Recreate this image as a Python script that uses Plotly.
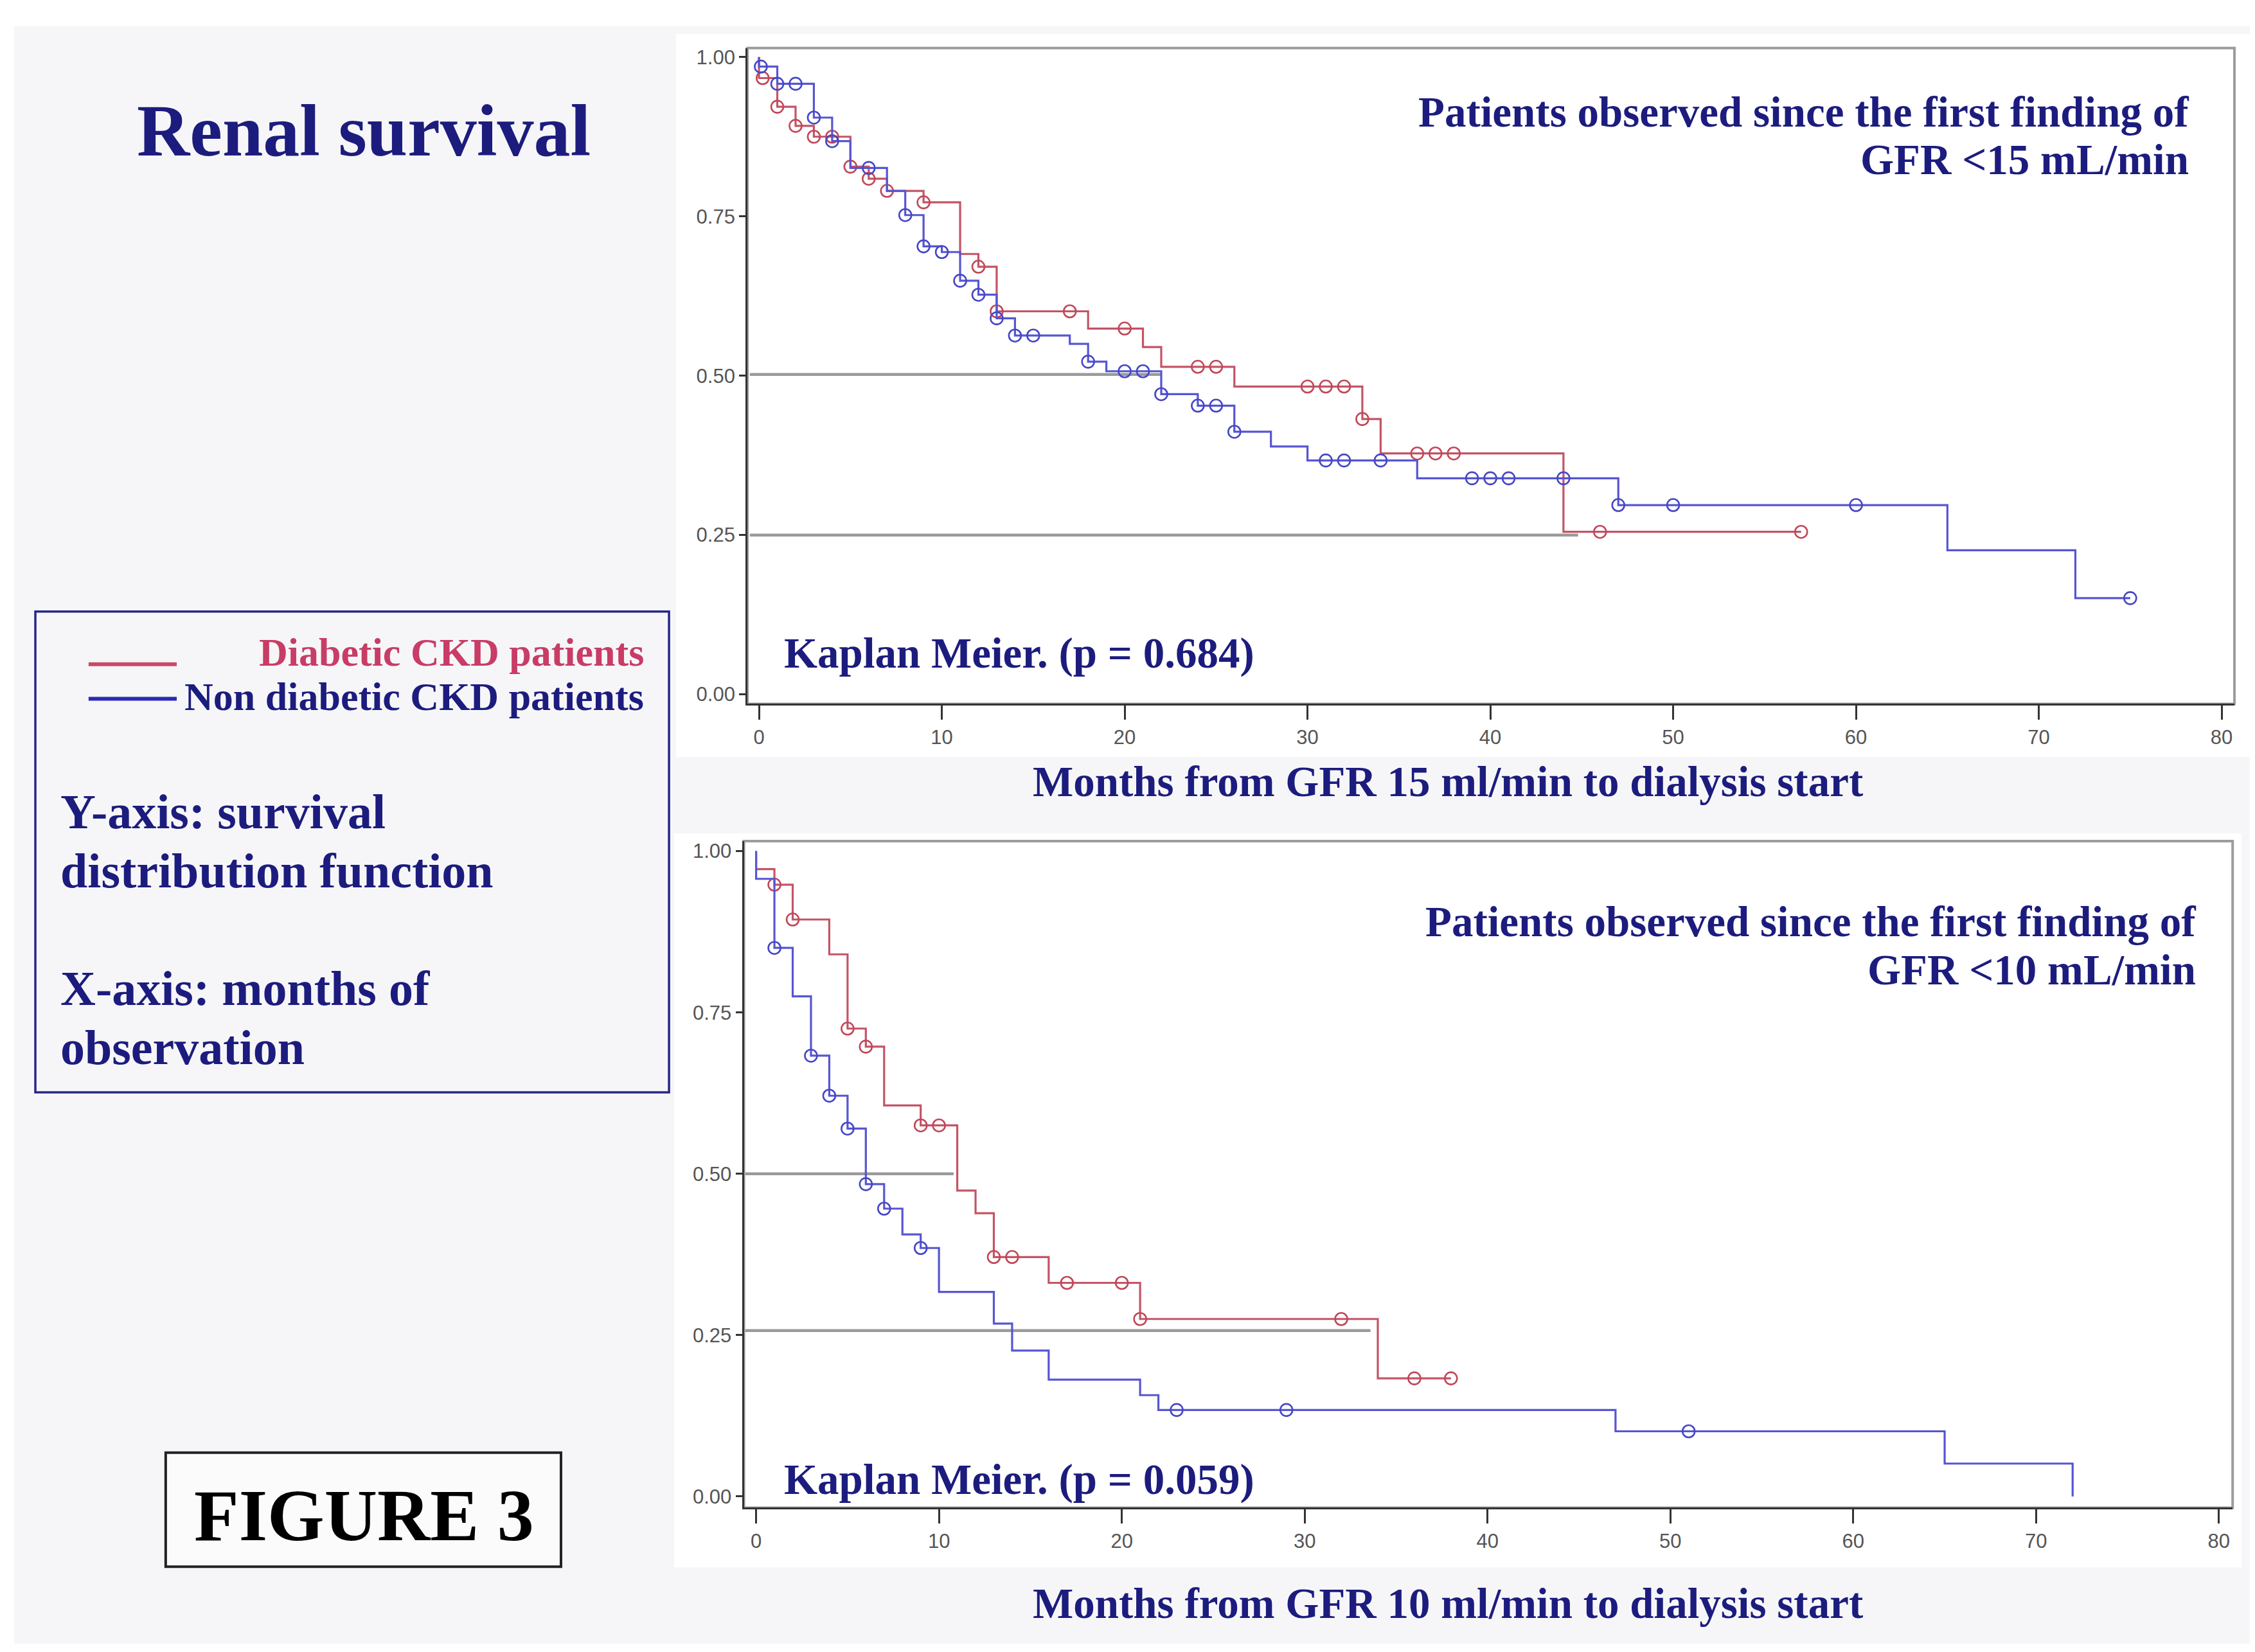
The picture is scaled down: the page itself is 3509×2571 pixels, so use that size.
import numpy as np
import plotly.graph_objects as go

# ---- data ----
months_ticks = [0, 10, 20, 30, 40, 50, 60, 70, 80]
surv_ticks = [0.0, 0.25, 0.5, 0.75, 1.0]
surv_labels = ["0.00", "0.25", "0.50", "0.75", "1.00"]

# GFR < 15 mL/min (top panel)
top_red_times = [0, 1, 2, 3, 5, 6, 7, 9, 11, 12, 13, 18, 21, 22, 26, 33, 34, 44]
top_red_surv = [0.967, 0.922, 0.892, 0.875, 0.828, 0.809, 0.79, 0.772, 0.691, 0.671,
                0.601, 0.574, 0.545, 0.514, 0.483, 0.432, 0.378, 0.255]
top_red_end = 57
top_red_cens = [0.2, 1, 2, 3, 4, 5, 6, 7, 9, 12, 13, 17, 20, 24, 25, 30, 31, 32, 33,
                36, 37, 38, 46, 57]

top_blue_times = [0, 1, 3, 4, 5, 7, 8, 9, 10, 11, 12, 13, 14, 17, 18, 19, 22, 24, 26,
                  28, 30, 36, 47, 65, 72]
top_blue_surv = [0.985, 0.958, 0.905, 0.868, 0.826, 0.79, 0.752, 0.703, 0.694, 0.649,
                 0.627, 0.59, 0.563, 0.55, 0.522, 0.507, 0.471, 0.453, 0.412, 0.389,
                 0.367, 0.339, 0.297, 0.226, 0.151]
top_blue_end = 75
top_blue_cens = [0.1, 1, 2, 3, 4, 6, 8, 9, 10, 11, 12, 13, 14, 15, 18, 20, 21, 22, 24,
                 25, 26, 31, 32, 34, 39, 40, 41, 44, 47, 50, 60, 75]

top_ref_y = [0.502, 0.25]
top_ref_end = [22, 44.8]

# GFR < 10 mL/min (bottom panel)
bot_red_times = [0, 1, 2, 4, 5, 6, 7, 9, 11, 12, 13, 16, 21, 34]
bot_red_surv = [0.972, 0.948, 0.894, 0.84, 0.725, 0.697, 0.606, 0.575, 0.474, 0.439,
                0.371, 0.331, 0.275, 0.183]
bot_red_end = 38
bot_red_cens = [1, 2, 5, 6, 9, 10, 13, 14, 17, 20, 21, 32, 36, 38]

bot_blue_times = [0, 1, 2, 3, 4, 5, 6, 7, 8, 9, 10, 13, 14, 16, 21, 22, 47, 65, 72]
bot_blue_surv = [0.957, 0.85, 0.775, 0.683, 0.621, 0.57, 0.484, 0.446, 0.406, 0.385,
                 0.317, 0.268, 0.226, 0.181, 0.157, 0.134, 0.101, 0.051, 0.0]
bot_blue_end = 72
bot_blue_cens = [1, 3, 4, 5, 6, 7, 9, 23, 29, 51]

bot_ref_y = [0.50, 0.257]
bot_ref_end = [10.8, 33.6]

# ---- styling ----
NAVY = "#1c1c7e"
RED_LINE = "#c45466"
BLUE_LINE = "#5656d2"
RED_MK = "#c04858"
BLUE_MK = "#4646c6"
SLIDE_BG = "#f6f6f8"
SERIF = "Liberation Serif, Times New Roman, serif"
SANS = "Liberation Sans, Arial, sans-serif"


def step_at(times, surv, t):
    # KM value at time t (drops at t included)
    idx = np.searchsorted(np.array(times), t, side="right") - 1
    return 1.0 if idx < 0 else surv[idx]


fig = go.Figure()


def add_curve(times, surv, end, cens, line_col, mk_col, xa, ya):
    xs = [0] + list(times) + [end]
    ys = [1.0] + list(surv) + [surv[-1]]
    fig.add_trace(go.Scatter(x=xs, y=ys, mode="lines", line_shape="hv",
                             line=dict(color=line_col, width=3.2),
                             xaxis=xa, yaxis=ya, showlegend=False, hoverinfo="skip"))
    fig.add_trace(go.Scatter(x=cens, y=[step_at(times, surv, t) for t in cens],
                             mode="markers",
                             marker=dict(symbol="circle-open", size=19, color=mk_col,
                                         line=dict(width=2.6, color=mk_col)),
                             xaxis=xa, yaxis=ya, showlegend=False, hoverinfo="skip"))


def add_refs(levels, ends, x_start, xa, ya):
    for lv, e in zip(levels, ends):
        fig.add_trace(go.Scatter(x=[x_start, e], y=[lv, lv], mode="lines",
                                 line=dict(color="#9a9a9a", width=4.5),
                                 xaxis=xa, yaxis=ya, showlegend=False, hoverinfo="skip"))


add_refs(top_ref_y, top_ref_end, -0.5, "x", "y")
add_curve(top_red_times, top_red_surv, top_red_end, top_red_cens, RED_LINE, RED_MK, "x", "y")
add_curve(top_blue_times, top_blue_surv, top_blue_end, top_blue_cens, BLUE_LINE, BLUE_MK, "x", "y")

add_refs(bot_ref_y, bot_ref_end, -0.6, "x2", "y2")
add_curve(bot_red_times, bot_red_surv, bot_red_end, bot_red_cens, RED_LINE, RED_MK, "x2", "y2")
add_curve(bot_blue_times, bot_blue_surv, bot_blue_end, bot_blue_cens, BLUE_LINE, BLUE_MK, "x2", "y2")

xaxis_common = dict(tickvals=months_ticks, ticks="outside", ticklen=22, tickwidth=2.5,
                    tickcolor="#333333", showline=True, linecolor="#333333", linewidth=3,
                    showgrid=False, zeroline=False,
                    tickfont=dict(family=SANS, size=31, color="#555555"))
yaxis_common = dict(tickvals=surv_ticks, ticktext=surv_labels, ticks="outside", ticklen=10,
                    tickwidth=2.5, tickcolor="#333333", showline=True, linecolor="#333333",
                    linewidth=3, showgrid=False, zeroline=False,
                    tickfont=dict(family=SANS, size=31, color="#555555"))

fig.update_layout(
    width=3509, height=2571,
    margin=dict(l=0, r=0, t=0, b=0),
    paper_bgcolor="white", plot_bgcolor="rgba(0,0,0,0)",
    xaxis=dict(domain=[0.3292, 0.9886], range=[-0.63, 80.7], anchor="y", **xaxis_common),
    yaxis=dict(domain=[0.5772, 0.9751], range=[-0.015, 1.014], anchor="x", **yaxis_common),
    xaxis2=dict(domain=[0.3276, 0.9878], range=[-0.67, 80.75], anchor="y2", **xaxis_common),
    yaxis2=dict(domain=[0.0895, 0.494], range=[-0.0174, 1.0156], anchor="x2", **yaxis_common),
)

shapes = [
    # slide background
    dict(type="rect", xref="paper", yref="paper", x0=0.004, x1=0.9966, y0=0.007, y1=0.9883,
         fillcolor=SLIDE_BG, line=dict(width=0), layer="below"),
    # white graph panels
    dict(type="rect", xref="paper", yref="paper", x0=0.2975, x1=0.9954, y0=0.5449, y1=0.9837,
         fillcolor="white", line=dict(width=0), layer="below"),
    dict(type="rect", xref="paper", yref="paper", x0=0.2967, x1=0.9917, y0=0.0533, y1=0.4986,
         fillcolor="white", line=dict(width=0), layer="below"),
    # plot frames
    dict(type="rect", xref="x domain", yref="y domain", x0=0, x1=1, y0=0, y1=1,
         line=dict(color="#9c9c9c", width=4), layer="below"),
    dict(type="rect", xref="x2 domain", yref="y2 domain", x0=0, x1=1, y0=0, y1=1,
         line=dict(color="#9c9c9c", width=4), layer="below"),
    # legend box
    dict(type="rect", xref="paper", yref="paper", x0=0.0134, x1=0.2944, y0=0.3415, y1=0.6332,
         fillcolor=SLIDE_BG, line=dict(color="#26268a", width=3.5), layer="below"),
    dict(type="line", xref="paper", yref="paper", x0=0.037, x1=0.0761, y0=0.6013, y1=0.6013,
         line=dict(color="#c84a6a", width=6)),
    dict(type="line", xref="paper", yref="paper", x0=0.037, x1=0.0761, y0=0.5803, y1=0.5803,
         line=dict(color="#2a2ab4", width=6)),
    # FIGURE 3 box
    dict(type="rect", xref="paper", yref="paper", x0=0.0712, x1=0.2465, y0=0.0537, y1=0.1229,
         fillcolor="#fbfbfb", line=dict(color="#222222", width=4), layer="below"),
]
fig.update_layout(shapes=shapes)


def txt(s, x, y, size, color=NAVY, xanchor="left"):
    fig.add_annotation(text="<b>%s</b>" % s, x=x, y=y, xref="paper", yref="paper",
                       xanchor=xanchor, yanchor="middle", showarrow=False,
                       font=dict(family=SERIF, size=size, color=color))


txt("Renal survival", 0.159, 0.925, 114, xanchor="center")
txt("Diabetic CKD patients", 0.2838, 0.6087, 62, color="#c83c66", xanchor="right")
txt("Non diabetic CKD patients", 0.2838, 0.5815, 62, xanchor="right")
txt("Y-axis: survival", 0.0239, 0.5119, 76)
txt("distribution function", 0.0239, 0.4761, 76)
txt("X-axis: months of", 0.0239, 0.4045, 76)
txt("observation", 0.0239, 0.3687, 76)
txt("FIGURE 3", 0.1593, 0.0848, 114, color="#000000", xanchor="center")

txt("Patients observed since the first finding of", 0.9689, 0.9365, 67, xanchor="right")
txt("GFR &lt;15 mL/min", 0.9689, 0.9075, 67, xanchor="right")
txt("Kaplan Meier. (p = 0.684)", 0.3448, 0.6079, 67)
txt("Months from GFR 15 ml/min to dialysis start", 0.6398, 0.5301, 67, xanchor="center")

txt("Patients observed since the first finding of", 0.9720, 0.4453, 67, xanchor="right")
txt("GFR &lt;10 mL/min", 0.9720, 0.4158, 67, xanchor="right")
txt("Kaplan Meier. (p = 0.059)", 0.3448, 0.1066, 67)
txt("Months from GFR 10 ml/min to dialysis start", 0.6398, 0.0315, 67, xanchor="center")

fig.write_html("out.html")
